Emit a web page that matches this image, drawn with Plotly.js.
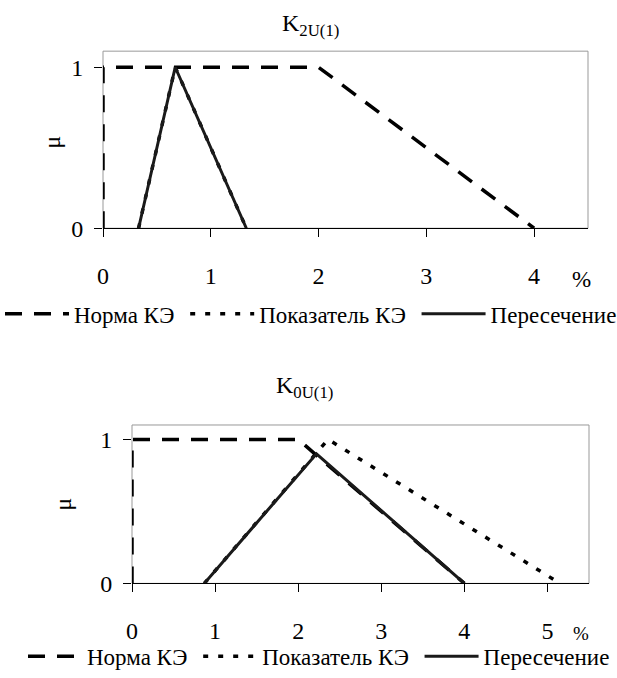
<!DOCTYPE html>
<html><head><meta charset="utf-8">
<script src="https://cdn.plot.ly/plotly-3.0.1.min.js"></script>
<style>html,body{margin:0;padding:0;background:#fff}#chart{width:617px;height:678px}</style>
</head><body><div id="chart"></div>
<script>
const seriesNames = ['Норма КЭ', 'Показатель КЭ', 'Пересечение'];
const titleTop = 'K<sub>2U(1)</sub>';
const titleBottom = 'K<sub>0U(1)</sub>';
// Top chart K2U(1)
const k2NormX = [0, 0, 2, 4];
const k2NormY = [0, 1, 1, 0];
const k2IndX = [0.33, 0.67, 1.33];
const k2IndY = [0, 1, 0];
const k2CrossX = [0.33, 0.67, 1.33];
const k2CrossY = [0, 1, 0];
// Bottom chart K0U(1)
const k0NormX = [0, 0, 2, 4];
const k0NormY = [0, 1, 1, 0];
const k0IndX = [0.87, 2.36, 5.15];
const k0IndY = [0, 1, 0];
const k0CrossX = [0.87, 2.22, 4];
const k0CrossY = [0, 0.9, 0];
const xTicksTop = [0, 1, 2, 3, 4];
const xTicksBottom = [0, 1, 2, 3, 4, 5];
const yTicks = [0, 1];

const FONT = '"Liberation Serif", "Times New Roman", serif';
const W = 617, H = 678;
const px = v => v / W;
const py = v => 1 - v / H;
const NB = '\u00a0';

const normLine = {color: '#000', width: 3.5, dash: '17px,12px'};
const indLine = {color: '#000', width: 3.5, dash: '5px,10px'};
const crossLine = {color: '#1a1a1a', width: 3};

function group(xa, ya, leg, nx, ny, ix, iy, cx, cy) {
  return [
    {x: nx, y: ny, xaxis: xa, yaxis: ya, legend: leg, name: seriesNames[0] + NB, mode: 'lines', line: normLine, hoverinfo: 'skip'},
    {x: ix, y: iy, xaxis: xa, yaxis: ya, legend: leg, name: seriesNames[1] + NB, mode: 'lines', line: indLine, hoverinfo: 'skip'},
    {x: cx, y: cy, xaxis: xa, yaxis: ya, legend: leg, name: seriesNames[2], mode: 'lines', line: crossLine, hoverinfo: 'skip'}
  ];
}

const data = [
  ...group('x', 'y', 'legend', k2NormX, k2NormY, k2IndX, k2IndY, k2CrossX, k2CrossY),
  ...group('x2', 'y2', 'legend2', k0NormX, k0NormY, k0IndX, k0IndY, k0CrossX, k0CrossY)
];

function xAxis(domain, range, ticks, anchor) {
  return {domain: domain, range: range, anchor: anchor, tickmode: 'array', tickvals: ticks,
    ticks: 'outside', ticklen: 8, tickcolor: '#000', tickwidth: 1,
    showline: true, linecolor: '#000', linewidth: 1, showgrid: false, zeroline: false,
    tickfont: {family: FONT, size: 24, color: '#000'}, ticklabelstandoff: 18, fixedrange: true};
}
function yAxis(domain, anchor) {
  return {domain: domain, range: [0, 1.1], anchor: anchor, tickmode: 'array', tickvals: yTicks,
    ticks: 'outside', ticklen: 8, tickcolor: '#000', tickwidth: 1,
    showline: false, showgrid: false, zeroline: false,
    tickfont: {family: FONT, size: 24, color: '#000'}, ticklabelstandoff: 6, fixedrange: true};
}

const legendBase = {orientation: 'h', xanchor: 'left', yanchor: 'middle',
  font: {family: FONT, size: 23, color: '#000'}, bgcolor: 'rgba(0,0,0,0)', tracegroupgap: 0};

function ann(text, x, y, size, angle) {
  return {text: text, xref: 'paper', yref: 'paper', x: px(x), y: py(y), xanchor: 'center', yanchor: 'middle',
    textangle: angle || 0, showarrow: false, font: {family: FONT, size: size, color: '#000'}};
}

const layout = {
  width: W, height: H, margin: {l: 0, r: 0, t: 0, b: 0},
  paper_bgcolor: '#fff', plot_bgcolor: '#fff',
  font: {family: FONT, color: '#000'},
  xaxis: xAxis([px(103), px(588)], [0, 4.5], xTicksTop, 'y'),
  yaxis: yAxis([py(232), py(52)], 'x'),
  xaxis2: xAxis([px(132), px(589)], [0, 5.5], xTicksBottom, 'y2'),
  yaxis2: yAxis([py(593), py(432)], 'x2'),
  legend: Object.assign({}, legendBase, {x: px(4), y: py(319), itemwidth: 64}),
  legend2: Object.assign({}, legendBase, {x: px(23), y: py(667), itemwidth: 54}),
  shapes: [
    {type: 'rect', xref: 'x domain', yref: 'y domain', x0: 0, x1: 1, y0: 0, y1: 1, line: {color: '#999', width: 1}, layer: 'below'},
    {type: 'rect', xref: 'x2 domain', yref: 'y2 domain', x0: 0, x1: 1, y0: 0, y1: 1, line: {color: '#999', width: 1}, layer: 'below'}
  ],
  annotations: [
    ann(titleTop, 310, 25, 24),
    ann(titleBottom, 304, 393, 24),
    ann('μ', 52, 145, 24, -90),
    ann('μ', 63, 513, 24, -90),
    ann('%', 581, 284, 23),
    ann('%', 581, 644, 19)
  ]
};

Plotly.newPlot('chart', data, layout, {displayModeBar: false, staticPlot: true});
</script></body></html>
